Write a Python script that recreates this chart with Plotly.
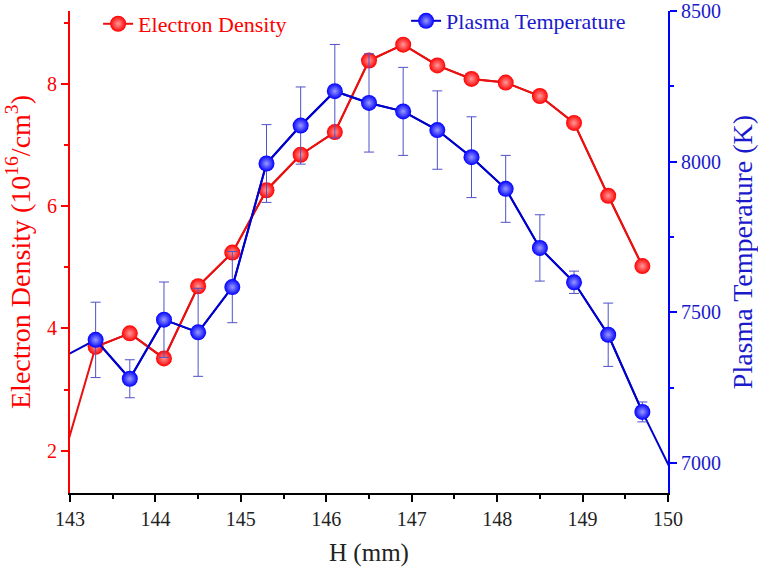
import plotly.graph_objects as go

# ---- data ----
h_pos = [143.3, 143.7, 144.1, 144.5, 144.9, 145.3, 145.7, 146.1, 146.5,
         146.9, 147.3, 147.7, 148.1, 148.5, 148.9, 149.3, 149.7]
density = [3.70, 3.92, 3.51, 4.69, 5.24, 6.26, 6.84, 7.21, 8.38,
           8.64, 8.30, 8.08, 8.02, 7.80, 7.36, 6.17, 5.02]
temperature = [7409, 7280, 7476, 7434, 7584, 7994, 8120, 8234, 8195,
               8167, 8105, 8015, 7910, 7714, 7600, 7426, 7170]
temp_err = [125, 63, 125, 146, 118, 129, 128, 155, 163,
            146, 130, 134, 111, 110, 37, 105, 33]

# points just outside the visible x-range (line continues to the frame)
density_edge_h = [142.9]
density_edge = [1.78]
temp_edge_h_left = [142.9]
temp_edge_left = [7349]
temp_edge_h_right = [150.1]
temp_edge_right = [6940]

RED = "#ff0000"
RED_LINE = "#e81010"
BLUE = "#0000ff"
BLUE_LINE = "#0000cc"
BLUE_TXT = "#1a1acc"
ERR = "#5050c8"
FONT = "Liberation Serif"

fig = go.Figure()

# red full path (incl. off-axis start)
fig.add_trace(go.Scatter(
    x=density_edge_h + h_pos, y=density_edge + density,
    mode="lines", line=dict(color=RED_LINE, width=2),
    showlegend=False, hoverinfo="skip", yaxis="y"))
fig.add_trace(go.Scatter(
    x=h_pos, y=density, mode="lines+markers", name="Electron Density",
    line=dict(color=RED_LINE, width=2),
    marker=dict(color=RED, size=16, line=dict(width=0),
                gradient=dict(type="radial", color="#ff9a9a")),
    yaxis="y", legend="legend"))

# blue full path
fig.add_trace(go.Scatter(
    x=temp_edge_h_left + h_pos + temp_edge_h_right,
    y=temp_edge_left + temperature + temp_edge_right,
    mode="lines", line=dict(color=BLUE_LINE, width=2),
    showlegend=False, hoverinfo="skip", yaxis="y2"))
fig.add_trace(go.Scatter(
    x=h_pos, y=temperature, mode="lines+markers", name="Plasma Temperature",
    line=dict(color=BLUE_LINE, width=2),
    marker=dict(color=BLUE, size=16, line=dict(width=0),
                gradient=dict(type="radial", color="#9a9aff")),
    error_y=dict(type="data", array=temp_err, visible=True,
                 color=ERR, thickness=1, width=5),
    yaxis="y2", legend="legend2"))

fig.update_layout(
    width=758, height=573,
    margin=dict(l=70, r=90, t=11, b=80, autoexpand=False),
    paper_bgcolor="white", plot_bgcolor="white",
    font=dict(family=FONT, size=20, color="black"),
    xaxis=dict(
        range=[143, 150], tick0=143, dtick=1, automargin=False,
        showline=True, linecolor="black", linewidth=2,
        ticks="outside", ticklen=7, tickwidth=2, tickcolor="black",
        minor=dict(dtick=0.5, ticks="outside", ticklen=4, tickwidth=2,
                   tickcolor="black"),
        showgrid=False, zeroline=False,
        tickfont=dict(size=20, color="#222222"),
        title=dict(text="H (mm)", font=dict(size=25, color="#222222"),
                   standoff=14),
    ),
    yaxis=dict(
        range=[1.31, 9.19], tick0=2, dtick=2, automargin=False,
        showline=True, linecolor=RED, linewidth=2,
        ticks="outside", ticklen=7, tickwidth=2, tickcolor=RED,
        minor=dict(dtick=1, ticks="outside", ticklen=4, tickwidth=2,
                   tickcolor=RED),
        showgrid=False, zeroline=False,
        tickfont=dict(size=20, color=RED),
        title=dict(text="Electron Density (10<sup>16</sup>/cm<sup>3</sup>)",
                   font=dict(size=28, color=RED), standoff=8),
    ),
    yaxis2=dict(
        range=[6901, 8500], tick0=7000, dtick=500, automargin=False,
        overlaying="y", side="right",
        showline=True, linecolor=BLUE, linewidth=2,
        ticks="outside", ticklen=7, tickwidth=2, tickcolor=BLUE,
        minor=dict(dtick=250, ticks="outside", ticklen=4, tickwidth=2,
                   tickcolor=BLUE),
        showgrid=False, zeroline=False,
        tickfont=dict(size=20, color=BLUE_TXT),
        title=dict(text="Plasma Temperature (K)",
                   font=dict(size=28, color=BLUE_TXT), standoff=16),
    ),
    legend=dict(x=0.047, y=0.9948, xanchor="left", yanchor="top",
                yref="container",
                bgcolor="rgba(0,0,0,0)", font=dict(size=22, color=RED)),
    legend2=dict(x=0.562, y=1.0, xanchor="left", yanchor="top",
                 yref="container",
                 bgcolor="rgba(0,0,0,0)", font=dict(size=22, color=BLUE_TXT)),
)

fig.write_html("out.html")
